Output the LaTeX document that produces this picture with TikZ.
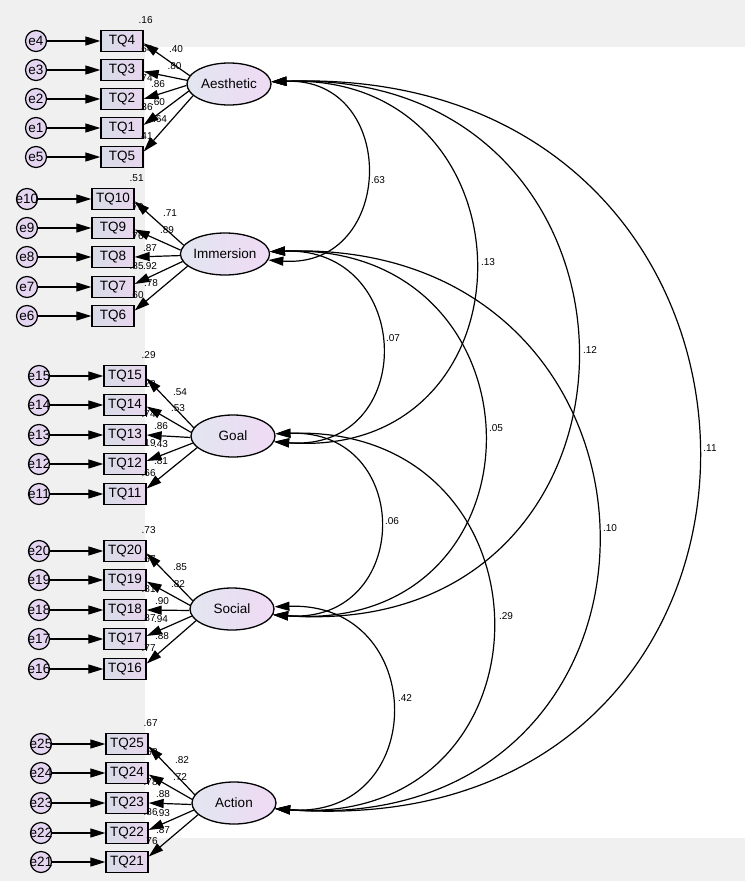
\documentclass[tikz,border=0pt]{standalone}
\usepackage{fontspec}
\setmainfont{Liberation Sans}
\usetikzlibrary{arrows.meta,shapes.geometric}
\definecolor{bggray}{HTML}{F0F0F0}
\definecolor{boxL}{HTML}{D8DCE8}
\definecolor{boxR}{HTML}{E8D6EE}
\definecolor{ellL}{HTML}{E2E6F0}
\definecolor{ellR}{HTML}{EFDAF4}
\definecolor{errC}{HTML}{E4D6F0}
\begin{document}
\begin{tikzpicture}[x=1pt,y=-1pt,
  obs/.style={draw=black, line width=1.3pt, left color=boxL, right color=boxR, minimum width=42pt, minimum height=21pt, inner sep=0pt, font=\fontsize{13.5}{14}\selectfont},
  lat/.style={ellipse, draw=black, line width=1.3pt, left color=ellL, right color=ellR, minimum width=84pt, minimum height=42pt, inner sep=0pt, font=\fontsize{13.5}{14}\selectfont},
  err/.style={circle, draw=black, line width=1.2pt, fill=errC, minimum size=21pt, inner sep=0pt, font=\fontsize{13.5}{14}\selectfont},
  arr/.style={line width=1.2pt, -{Triangle[length=15pt,width=9pt]}},
  cov/.style={line width=1.2pt, {Triangle[length=15pt,width=9pt]}-{Triangle[length=15pt,width=9pt]}},
  num/.style={font=\fontsize{10}{11}\selectfont, inner sep=0pt},
]
\useasboundingbox (0,0) rectangle (745,881);
\fill[bggray] (0,0) rectangle (745,881);
\fill[white] (145,47) rectangle (745,838);

% ---------- latent variables ----------
\node[lat] (Aes) at (229,84) {Aesthetic};
\node[lat] (Imm) at (225,254) {Immersion};
\node[lat] (Goa) at (233,436) {Goal};
\node[lat] (Soc) at (232,609) {Social};
\node[lat] (Act) at (234,803) {Action};

% ---------- observed variables and errors ----------
% Aesthetic
\node[obs] (TQ4) at (122,41) {TQ4};
\node[obs] (TQ3) at (122,70) {TQ3};
\node[obs] (TQ2) at (122,99) {TQ2};
\node[obs] (TQ1) at (122,128) {TQ1};
\node[obs] (TQ5) at (122,157) {TQ5};
\node[err] (e4) at (36,41) {\makebox[0pt]{e4}};
\node[err] (e3) at (36,70) {\makebox[0pt]{e3}};
\node[err] (e2) at (36,99) {\makebox[0pt]{e2}};
\node[err] (e1) at (36,128) {\makebox[0pt]{e1}};
\node[err] (e5) at (36,157) {\makebox[0pt]{e5}};
% Immersion
\node[obs] (TQ10) at (113,199) {TQ10};
\node[obs] (TQ9) at (113,228) {TQ9};
\node[obs] (TQ8) at (113,257) {TQ8};
\node[obs] (TQ7) at (113,287) {TQ7};
\node[obs] (TQ6) at (113,316) {TQ6};
\node[err] (e10) at (27,199) {\makebox[0pt]{e10}};
\node[err] (e9) at (27,228) {\makebox[0pt]{e9}};
\node[err] (e8) at (27,257) {\makebox[0pt]{e8}};
\node[err] (e7) at (27,287) {\makebox[0pt]{e7}};
\node[err] (e6) at (27,316) {\makebox[0pt]{e6}};
% Goal
\node[obs] (TQ15) at (125,376) {TQ15};
\node[obs] (TQ14) at (125,405) {TQ14};
\node[obs] (TQ13) at (125,435) {TQ13};
\node[obs] (TQ12) at (125,464) {TQ12};
\node[obs] (TQ11) at (125,494) {TQ11};
\node[err] (e15) at (39,376) {\makebox[0pt]{e15}};
\node[err] (e14) at (39,405) {\makebox[0pt]{e14}};
\node[err] (e13) at (39,435) {\makebox[0pt]{e13}};
\node[err] (e12) at (39,464) {\makebox[0pt]{e12}};
\node[err] (e11) at (39,494) {\makebox[0pt]{e11}};
% Social
\node[obs] (TQ20) at (125,551) {TQ20};
\node[obs] (TQ19) at (125,580) {TQ19};
\node[obs] (TQ18) at (125,610) {TQ18};
\node[obs] (TQ17) at (125,639) {TQ17};
\node[obs] (TQ16) at (125,669) {TQ16};
\node[err] (e20) at (39,551) {\makebox[0pt]{e20}};
\node[err] (e19) at (39,580) {\makebox[0pt]{e19}};
\node[err] (e18) at (39,610) {\makebox[0pt]{e18}};
\node[err] (e17) at (39,639) {\makebox[0pt]{e17}};
\node[err] (e16) at (39,669) {\makebox[0pt]{e16}};
% Action
\node[obs] (TQ25) at (127,744) {TQ25};
\node[obs] (TQ24) at (127,773) {TQ24};
\node[obs] (TQ23) at (127,803) {TQ23};
\node[obs] (TQ22) at (127,833) {TQ22};
\node[obs] (TQ21) at (127,862) {TQ21};
\node[err] (e25) at (41,744) {\makebox[0pt]{e25}};
\node[err] (e24) at (41,773) {\makebox[0pt]{e24}};
\node[err] (e23) at (41,803) {\makebox[0pt]{e23}};
\node[err] (e22) at (41,833) {\makebox[0pt]{e22}};
\node[err] (e21) at (41,862) {\makebox[0pt]{e21}};

% ---------- squared multiple correlations ----------
\foreach \b/\v in {TQ4/.16,TQ3/.64,TQ2/.74,TQ1/.36,TQ5/.41,
                   TQ10/.51,TQ9/.79,TQ8/.76,TQ7/.85,TQ6/.60,
                   TQ15/.29,TQ14/.28,TQ13/.74,TQ12/.19,TQ11/.66,
                   TQ20/.73,TQ19/.67,TQ18/.81,TQ17/.87,TQ16/.77,
                   TQ25/.67,TQ24/.52,TQ23/.78,TQ22/.86,TQ21/.76}
  \node[num] (r\b) at ([xshift=2pt,yshift=10pt]\b.north east) {\v};

% ---------- loading labels ----------
\node[num] (l4) at (176,49) {.40};
\node[num] (l3) at (174.5,66) {.80};
\node[num] (l2) at (158,84) {.86};
\node[num] (l1) at (158,102) {.60};
\node[num] (l5) at (160,119) {.64};
\node[num] (l10) at (170,213) {.71};
\node[num] (l9) at (167,230) {.89};
\node[num] (l8) at (150,248) {.87};
\node[num] (l7) at (150,266) {.92};
\node[num] (l6) at (151,283) {.78};
\node[num] (l15) at (180,392) {.54};
\node[num] (l14) at (178,408) {.53};
\node[num] (l13) at (161,426) {.86};
\node[num] (l12) at (161,444) {.43};
\node[num] (l11) at (161,461) {.81};
\node[num] (l20) at (180,567) {.85};
\node[num] (l19) at (178,584) {.82};
\node[num] (l18) at (162,601) {.90};
\node[num] (l17) at (161,619) {.94};
\node[num] (l16) at (162,636) {.88};
\node[num] (l25) at (182,760) {.82};
\node[num] (l24) at (180,777) {.72};
\node[num] (l23) at (163,794) {.88};
\node[num] (l22) at (163,813) {.93};
\node[num] (l21) at (163,830) {.87};

% ---------- error arrows ----------
\foreach \e/\b in {e4/TQ4,e3/TQ3,e2/TQ2,e1/TQ1,e5/TQ5,
                   e10/TQ10,e9/TQ9,e8/TQ8,e7/TQ7,e6/TQ6,
                   e15/TQ15,e14/TQ14,e13/TQ13,e12/TQ12,e11/TQ11,
                   e20/TQ20,e19/TQ19,e18/TQ18,e17/TQ17,e16/TQ16,
                   e25/TQ25,e24/TQ24,e23/TQ23,e22/TQ22,e21/TQ21}
  \draw[arr] (\e) -- (\b);

% ---------- loadings ----------
\foreach \L/\a/\b/\c/\d/\f in {Aes/TQ4/TQ3/TQ2/TQ1/TQ5,
                               Imm/TQ10/TQ9/TQ8/TQ7/TQ6,
                               Goa/TQ15/TQ14/TQ13/TQ12/TQ11,
                               Soc/TQ20/TQ19/TQ18/TQ17/TQ16,
                               Act/TQ25/TQ24/TQ23/TQ22/TQ21}{
  \draw[arr] (\L.168) -- (\a.-6);
  \draw[arr] (\L.175) -- (\b.-4);
  \draw[arr] (\L.182) -- (\c.east);
  \draw[arr] (\L.190) -- (\d.8);
  \draw[arr] (\L.198) -- (\f.14);
}

% ---------- covariances ----------
\tikzset{cv/.style={cov,out=2,in=-4,looseness=#1}}
\draw[cv=1.835] (Aes.3) to (Imm.-8);
\draw[cv=1.907] (Aes.3) to (Goa.-8);
\draw[cv=1.943] (Aes.3) to (Soc.-8);
\draw[cv=1.988] (Aes.3) to (Act.-8);
\draw[cv=1.95]  (Imm.3) to (Goa.-8);
\draw[cv=1.984] (Imm.3) to (Soc.-8);
\draw[cv=1.984] (Imm.3) to (Act.-8);
\draw[cv=1.973] (Goa.3) to (Soc.-8);
\draw[cv=1.971] (Goa.3) to (Act.-8);
\draw[cv=1.962] (Soc.3) to (Act.-8);

\node[num] (c1) at (378,180) {.63};
\node[num] (c2) at (488,262) {.13};
\node[num] (c3) at (590,350) {.12};
\node[num] (c4) at (710,448) {.11};
\node[num] (c5) at (393,338) {.07};
\node[num] (c6) at (496,428) {.05};
\node[num] (c7) at (610,528) {.10};
\node[num] (c8) at (392,521) {.06};
\node[num] (c9) at (506,616) {.29};
\node[num] (c10) at (405,698) {.42};
\end{tikzpicture}
\end{document}
